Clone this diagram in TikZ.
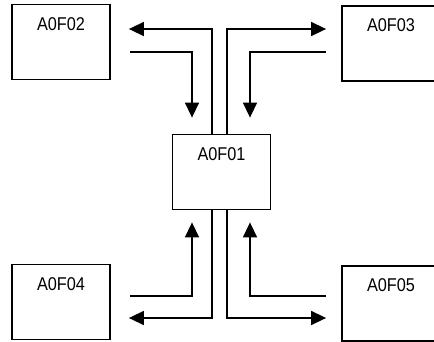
\documentclass[tikz,border=0pt]{standalone}
\usepackage{fontspec}
\setmainfont{Liberation Sans}
\newfontfamily\boxfont[FakeStretch=0.88]{Liberation Sans}
\usetikzlibrary{arrows.meta, positioning}

\begin{document}
\begin{tikzpicture}[x=1pt, y=-1pt,
  >={Triangle[length=15pt, width=14pt]},
  box/.style={draw, line width=1.8pt, minimum width=98pt, minimum height=75pt, inner sep=0pt},
  boxlabel/.style={anchor=north, yshift=-10pt, font=\boxfont\fontsize{18.5}{20}\selectfont},
  flow/.style={->, line width=1.5pt}]

\useasboundingbox (0,0) rectangle (434,341);

% =========== Boxes ===========
\node[box, label={[boxlabel]north:A0F01}] (f01) at (221.5,172) {};
\node[box, label={[boxlabel]north:A0F02}] (f02) at (61,42) {};
\node[box, label={[boxlabel]north:A0F03}] (f03) at (391,43.5) {};
\node[box, label={[boxlabel]north:A0F04}] (f04) at (61,302) {};
\node[box, label={[boxlabel]north:A0F05}] (f05) at (391,303.5) {};

% =========== Upper links ===========
\draw[flow] ([xshift=-9.5pt]f01.north) |- ([xshift=18pt, yshift=13pt]f02.east);
\draw[flow] ([xshift=19pt, yshift=-10pt]f02.east) -| ([xshift=-29.5pt, yshift=16pt]f01.north);
\draw[flow] ([xshift=5.5pt]f01.north) |- ([xshift=-15pt, yshift=14.5pt]f03.west);
\draw[flow] ([xshift=-15pt, yshift=-8.5pt]f03.west) -| ([xshift=28.5pt, yshift=16pt]f01.north);

% =========== Lower links ===========
\draw[flow] ([xshift=19pt, yshift=6pt]f04.east) -| ([xshift=-29.5pt, yshift=-12pt]f01.south);
\draw[flow] ([xshift=-9.5pt]f01.south) |- ([xshift=18pt, yshift=-16pt]f04.east);
\draw[flow] ([xshift=5.5pt]f01.south) |- ([xshift=-15pt, yshift=-14.5pt]f05.west);
\draw[flow] ([xshift=-15pt, yshift=7.5pt]f05.west) -| ([xshift=28.5pt, yshift=-12pt]f01.south);

\end{tikzpicture}
\end{document}
